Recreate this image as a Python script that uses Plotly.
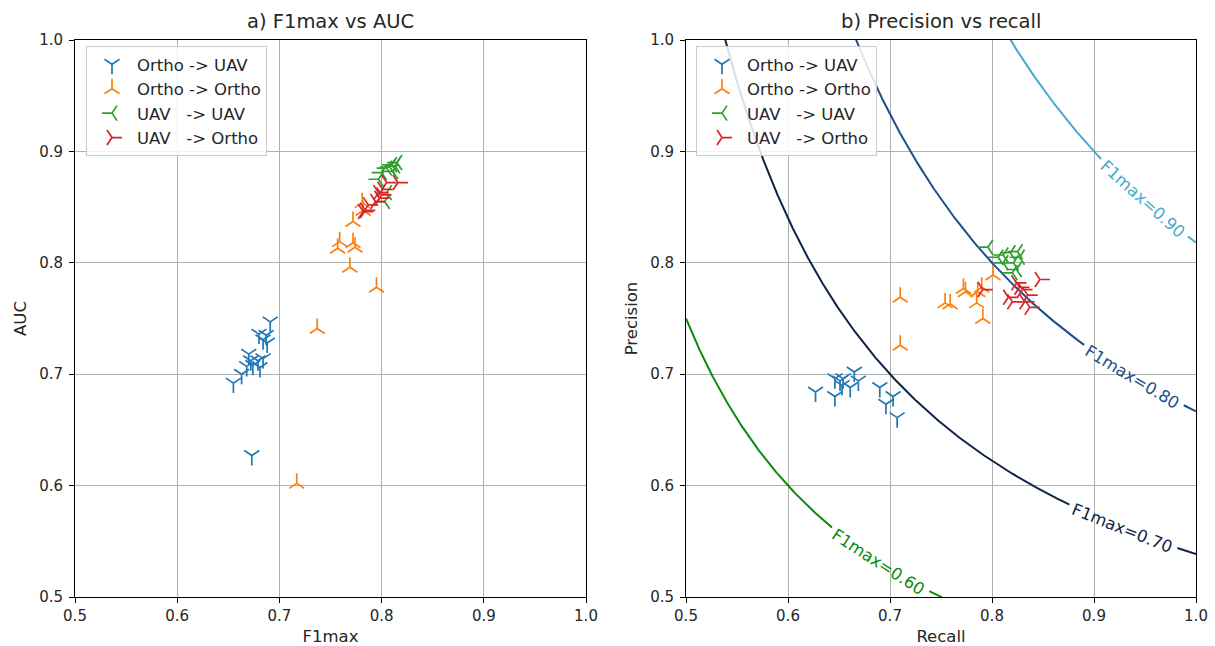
import numpy as np
import plotly.graph_objects as go

# ---------------- data ----------------
series_names = ["Ortho -> UAV", "Ortho -> Ortho", "UAV\u00a0\u00a0\u00a0-> UAV", "UAV\u00a0\u00a0\u00a0-> Ortho"]
series_colors = ["#1f77b4", "#ff7f0e", "#2ca02c", "#d62728"]
series_symbols = ["y-down", "y-up", "y-left", "y-right"]

# a) F1max vs AUC
f1_o2u = [0.691, 0.680, 0.687, 0.684, 0.688, 0.670, 0.672, 0.679, 0.684, 0.668, 0.674, 0.681, 0.663, 0.655, 0.673]
auc_o2u = [0.747, 0.736, 0.735, 0.731, 0.728, 0.718, 0.712, 0.712, 0.714, 0.707, 0.708, 0.706, 0.700, 0.692, 0.627]
f1_o2o = [0.781, 0.782, 0.772, 0.759, 0.757, 0.772, 0.774, 0.769, 0.795, 0.737, 0.717]
auc_o2o = [0.854, 0.847, 0.837, 0.819, 0.813, 0.818, 0.814, 0.796, 0.778, 0.741, 0.602]
f1_u2u = [0.810, 0.815, 0.805, 0.811, 0.800, 0.797, 0.805, 0.803, 0.808, 0.813]
auc_u2u = [0.888, 0.890, 0.885, 0.882, 0.881, 0.875, 0.863, 0.855, 0.886, 0.887]
f1_u2o = [0.816, 0.805, 0.797, 0.798, 0.794, 0.787, 0.784, 0.782, 0.800, 0.801]
auc_u2o = [0.872, 0.872, 0.863, 0.858, 0.855, 0.852, 0.847, 0.846, 0.861, 0.866]

# b) Precision vs recall
rec_o2u = [0.627, 0.646, 0.651, 0.654, 0.665, 0.669, 0.653, 0.661, 0.646, 0.690, 0.703, 0.696, 0.707]
prec_o2u = [0.684, 0.696, 0.694, 0.696, 0.702, 0.694, 0.690, 0.688, 0.680, 0.688, 0.680, 0.673, 0.661]
rec_o2o = [0.710, 0.710, 0.754, 0.759, 0.772, 0.774, 0.785, 0.786, 0.791, 0.801, 0.790]
prec_o2o = [0.769, 0.726, 0.764, 0.763, 0.777, 0.774, 0.764, 0.774, 0.750, 0.789, 0.778]
rec_u2u = [0.796, 0.811, 0.818, 0.825, 0.827, 0.811, 0.821, 0.806, 0.824, 0.820]
prec_u2u = [0.814, 0.807, 0.809, 0.810, 0.805, 0.800, 0.800, 0.805, 0.794, 0.791]
rec_u2o = [0.847, 0.824, 0.830, 0.816, 0.835, 0.832, 0.820, 0.837, 0.827, 0.791]
prec_u2o = [0.785, 0.782, 0.776, 0.769, 0.771, 0.765, 0.765, 0.760, 0.778, 0.776]

# iso-F1 levels
f1_levels = [0.60, 0.70, 0.80, 0.90]
f1_level_colors = ["#0a8c0a", "#0f2447", "#1d4f8c", "#48a9cf"]
f1_label_recall = [0.689, 0.928, 0.938, 0.948]

# ---------------- figure ----------------
fig = go.Figure()

left_x = [f1_o2u, f1_o2o, f1_u2u, f1_u2o]
left_y = [auc_o2u, auc_o2o, auc_u2u, auc_u2o]
right_x = [rec_o2u, rec_o2o, rec_u2u, rec_u2o]
right_y = [prec_o2u, prec_o2o, prec_u2u, prec_u2o]

FS = 16.5  # base font size (px)

# iso-F1 curves (right panel), split into two pieces around the inline label
PX_X = 1020.0  # px per unit recall
PX_Y = 1114.0  # px per unit precision
r = np.linspace(0.5, 1.0, 1500)
for F, col, rl in zip(f1_levels, f1_level_colors, f1_label_recall):
    pl = F * rl / (2 * rl - F)
    seg_a, seg_b = ([], []), ([], [])
    for rv in r:
        den = 2 * rv - F
        if den <= 0:
            continue
        pv = F * rv / den
        if pv > 1.05:
            continue
        d = float(np.hypot((rv - rl) * PX_X, (pv - pl) * PX_Y))
        if d < 58:
            continue
        seg = seg_a if rv < rl else seg_b
        seg[0].append(float(rv))
        seg[1].append(float(pv))
    for sx, sy in (seg_a, seg_b):
        fig.add_trace(go.Scatter(x=sx, y=sy, mode="lines", line=dict(color=col, width=2),
                                 showlegend=False, hoverinfo="skip", xaxis="x2", yaxis="y2"))
    dp = -F * F / (2 * rl - F) ** 2
    ang = float(np.degrees(np.arctan(-dp * PX_Y / PX_X)))
    fig.add_annotation(x=rl, y=pl, xref="x2", yref="y2", text=f"F1max={F:.2f}",
                       textangle=ang, showarrow=False,
                       font=dict(family="DejaVu Sans", size=FS, color=col))

for i in range(4):
    fig.add_trace(go.Scatter(
        x=left_x[i], y=left_y[i], mode="markers", name=series_names[i],
        marker=dict(symbol=series_symbols[i], size=12.5, color=series_colors[i],
                    line=dict(color=series_colors[i], width=1.7)),
        xaxis="x", yaxis="y", legend="legend", legendgroup=f"a{i}"))
for i in range(4):
    fig.add_trace(go.Scatter(
        x=right_x[i], y=right_y[i], mode="markers", name=series_names[i],
        marker=dict(symbol=series_symbols[i], size=12.5, color=series_colors[i],
                    line=dict(color=series_colors[i], width=1.7)),
        xaxis="x2", yaxis="y2", legend="legend2", legendgroup=f"b{i}"))

W, H = 1215, 646
yd = [1 - 597 / H, 1 - 40 / H]
axis_common = dict(range=[0.5, 1.0], dtick=0.1, tick0=0.5, showgrid=True, gridcolor="#b0b0b0",
                   gridwidth=1, showline=True, linecolor="black", linewidth=1, mirror=True,
                   ticks="outside", ticklen=5, tickcolor="black", zeroline=False,
                   tickformat=".1f", automargin=False,
                   tickfont=dict(family="DejaVu Sans", size=15, color="#262626"),
                   title_font=dict(family="DejaVu Sans", size=FS, color="#262626"))

legend_common = dict(y=1 - 46 / H, xanchor="left", yanchor="top",
                     bgcolor="rgba(255,255,255,0.85)", bordercolor="#cccccc", borderwidth=1,
                     font=dict(family="DejaVu Sans", size=FS, color="#262626"),
                     itemwidth=40, tracegroupgap=0)

fig.update_layout(
    width=W, height=H, plot_bgcolor="white", paper_bgcolor="white",
    margin=dict(l=0, r=0, t=0, b=0, autoexpand=False),
    xaxis=dict(domain=[75 / W, 586 / W], anchor="y", title=dict(text="F1max", standoff=6), **axis_common),
    yaxis=dict(domain=yd, anchor="x", title=dict(text="AUC", standoff=8), ticklabelstandoff=3, **axis_common),
    xaxis2=dict(domain=[686 / W, 1196 / W], anchor="y2", title=dict(text="Recall", standoff=6), **axis_common),
    yaxis2=dict(domain=yd, anchor="x2", title=dict(text="Precision", standoff=8), ticklabelstandoff=3, **axis_common),
    legend=dict(x=86 / W, **legend_common),
    legend2=dict(x=696 / W, **legend_common),
    annotations=list(fig.layout.annotations) + [
        dict(text="a) F1max vs AUC", x=(75 + 586) / 2 / W, y=1 - 22 / H, xref="paper", yref="paper",
             xanchor="center", yanchor="middle",
             showarrow=False, font=dict(family="DejaVu Sans", size=19.5, color="#262626")),
        dict(text="b) Precision vs recall", x=(686 + 1196) / 2 / W, y=1 - 22 / H, xref="paper", yref="paper",
             xanchor="center", yanchor="middle",
             showarrow=False, font=dict(family="DejaVu Sans", size=19.5, color="#262626")),
    ],
)

fig.write_html("out.html", config={"displayModeBar": False})

# remove the browser's default body margin so the figure fills the window exactly
with open("out.html", "r", encoding="utf-8") as fh:
    html = fh.read()
html = html.replace("<body>", '<body style="margin:0;padding:0;overflow:hidden">', 1)
with open("out.html", "w", encoding="utf-8") as fh:
    fh.write(html)
